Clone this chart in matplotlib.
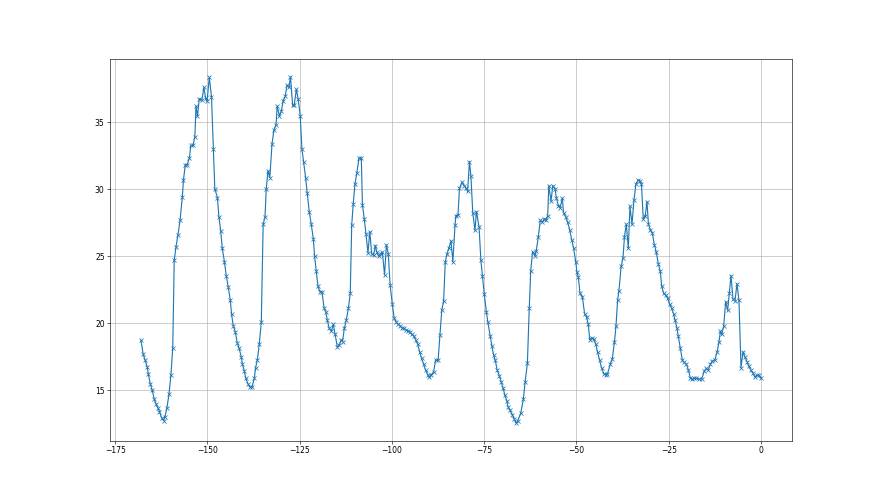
import matplotlib
matplotlib.use("Agg")
import matplotlib.pyplot as plt

# hours before now
hours = [
    -168.0, -167.4, -166.85, -166.3, -166.0, -165.5, -164.95, -164.4, -163.9, -163.3,
    -163.0, -162.4, -161.9, -161.5, -161.0, -160.4, -159.9, -159.4, -159.0, -158.5,
    -158.0, -157.4, -156.8, -156.5, -156.0, -155.5, -154.9, -154.5, -153.9, -153.4,
    -153.1, -152.7, -152.2, -151.5, -150.95, -150.5, -150.1, -149.5, -148.9, -148.4,
    -148.0, -147.3, -146.9,
    -146.4, -145.98, -145.4, -144.9, -144.36, -143.8, -143.45, -143.0, -142.46, -141.9,
    -141.4, -140.84, -140.5, -140.0, -139.6, -139.03, -138.5, -137.94, -137.3, -136.95,
    -136.5, -135.96, -135.4, -134.9, -134.4, -134.06, -133.6, -133.1, -132.5, -132.0,
    -131.4, -131.1, -130.5, -130.0, -129.45, -128.9, -128.46, -127.9, -127.5, -126.9,
    -126.5, -125.9, -125.4,
    -124.85, -124.4, -123.94, -123.4, -122.95, -122.4, -121.9, -121.3, -120.96, -120.5,
    -120.05, -119.5, -118.97, -118.4, -117.9, -117.5, -117.0, -116.4, -115.9, -115.4,
    -114.8, -114.3, -113.7, -113.4, -112.9, -112.4, -111.8, -111.3, -110.9, -110.5,
    -110.0, -109.5, -108.95, -108.3, -108.0, -107.5, -107.05, -106.5, -106.0, -105.5,
    -104.97,
    -104.5, -104.1, -103.6, -103.1, -102.6, -102.0, -101.5, -101.0, -100.5, -99.9,
    -99.37, -98.9, -98.47, -97.8, -97.4, -96.75, -96.3, -95.7, -95.1, -94.67,
    -94.1, -93.6, -93.05, -92.5, -91.96, -91.4, -90.9, -90.3, -89.9, -89.3,
    -88.7, -88.17, -87.5, -87.0, -86.5, -86.0, -85.55, -85.1, -84.55, -84.0,
    -83.5, -82.9,
    -82.66, -82.1, -81.7, -81.0, -80.5, -80.0, -79.5, -79.0, -78.6, -78.1,
    -77.5, -77.1, -76.4, -75.9, -75.5, -75.0, -74.4, -74.0, -73.4, -72.9,
    -72.45, -72.0, -71.5, -70.9, -70.4, -69.9, -69.4, -68.9, -68.5, -68.0,
    -67.4, -66.85, -66.3, -65.9, -65.1, -64.4, -63.9, -63.3, -62.8, -62.4,
    -61.9,
    -61.2, -60.9, -60.35, -59.8, -59.26, -58.7, -58.2, -57.8, -57.5, -56.9,
    -56.4, -55.8, -55.47, -54.9, -54.4, -53.84, -53.5, -52.9, -52.4, -51.85,
    -51.3, -50.77, -50.2, -49.87, -49.5, -49.05, -48.4, -47.8, -47.25, -46.8,
    -46.4, -45.9, -45.35, -44.8, -44.27, -43.7, -43.2, -42.6, -42.1, -41.6,
    -40.8, -40.3,
    -39.7, -39.3, -38.85, -38.5, -37.9, -37.4, -37.0, -36.5, -35.96, -35.5,
    -34.96, -34.4, -33.9, -33.3, -32.8, -32.4, -31.9, -31.35, -30.9, -30.5,
    -30.0, -29.45, -28.9, -28.4, -27.8, -27.3, -26.9, -26.4, -25.84, -25.3,
    -24.75, -24.2, -23.7, -23.3, -22.8, -22.4, -21.9, -21.3, -20.8, -20.2,
    -19.7, -19.16, -18.6, -18.07, -17.5,
    -16.8, -16.08, -15.36, -14.8, -14.28, -13.73, -13.2, -12.47, -11.93, -11.4,
    -11.0, -10.66, -10.12, -9.58, -9.04, -8.59, -8.13, -7.59, -7.05, -6.51,
    -5.97, -5.42, -4.88, -4.34, -3.8, -3.26, -2.71, -2.17, -1.63, -1.09,
    -0.55, 0.0,
]

temperature = [
    18.73, 17.69, 17.24, 16.74, 16.2, 15.52, 15.02, 14.35, 13.96, 13.66,
    13.41, 12.96, 12.76, 13.06, 13.66, 14.75, 16.14, 18.13, 24.70, 25.72,
    26.59, 27.71, 29.43, 30.67, 31.82, 31.82, 32.31, 33.26, 33.26, 33.91,
    36.19, 35.45, 36.74, 36.64, 37.59, 36.79, 36.54, 38.33, 36.89, 33.01,
    30.02, 29.38, 27.96,
    26.89, 25.60, 24.60, 23.56, 22.71, 21.72, 20.67, 19.83, 19.38, 18.53,
    18.13, 17.51, 16.94, 16.44, 15.9, 15.5, 15.25, 15.25, 15.9, 16.69,
    17.24, 18.43, 20.12, 27.39, 27.94, 30.02, 31.37, 30.87, 33.36, 34.40,
    34.80, 36.19, 35.45, 35.8, 36.59, 36.94, 37.74, 37.59, 38.38, 36.24,
    36.24, 37.44, 36.69,
    35.45, 33.01, 32.01, 30.87, 29.73, 28.28, 27.44, 26.29, 25.0, 23.9,
    22.76, 22.36, 22.36, 21.17, 20.82, 20.22, 19.63, 19.43, 19.93, 19.18,
    18.23, 18.38, 18.78, 18.63, 19.63, 20.22, 21.12, 22.26, 27.34, 28.88,
    30.42, 31.22, 32.31, 32.31, 28.83, 27.79, 26.69, 25.25, 26.84, 25.20,
    25.1,
    25.8, 25.3, 25.0, 25.2, 25.3, 23.61, 25.85, 25.2, 22.86, 21.42,
    20.37, 20.12, 19.97, 19.83, 19.68, 19.63, 19.53, 19.43, 19.38, 19.18,
    19.08, 18.78, 18.48, 17.89, 17.39, 16.94, 16.54, 16.19, 15.99, 16.19,
    16.39, 17.29, 17.24, 19.13, 20.97, 21.67, 24.6, 25.15, 25.65, 26.14,
    24.6, 27.34,
    28.03, 28.08, 30.07, 30.52, 30.27, 30.12, 29.83, 32.06, 30.97, 28.23,
    26.94, 28.33, 27.19, 24.7, 23.56, 22.21, 20.82, 20.07, 19.08, 18.28,
    17.64, 17.24, 16.54, 16.09, 15.65, 15.2, 14.65, 14.25, 13.76, 13.51,
    13.21, 12.86, 12.56, 12.76, 13.31, 14.35, 15.65, 17.04, 21.12, 23.9,
    25.35,
    25.05, 25.4, 26.44, 27.69, 27.54, 27.79, 27.69, 28.03, 30.27, 29.13,
    30.27, 30.02, 29.38, 28.78, 28.63, 29.33, 28.23, 27.94, 27.54, 26.99,
    26.24, 25.60, 24.60, 23.81, 23.46, 22.26, 21.97, 20.72, 20.47, 19.93,
    18.78, 18.93, 18.83, 18.48, 17.84, 17.24, 16.69, 16.24, 16.19, 16.24,
    16.99, 17.34,
    18.63, 19.78, 21.77, 22.41, 24.25, 24.85, 26.44, 27.39, 25.6, 28.73,
    27.39, 29.23, 30.37, 30.67, 30.62, 30.37, 27.79, 28.03, 29.08, 27.39,
    26.99, 26.74, 25.85, 25.35, 24.40, 23.9, 22.76, 22.26, 22.11, 21.87,
    21.42, 21.12, 20.72, 20.27, 19.68, 19.03, 18.18, 17.24, 17.09, 16.94,
    16.54, 15.95, 15.85, 15.9, 15.9,
    15.85, 15.85, 16.44, 16.64, 16.54, 16.94, 17.19, 17.29, 17.84, 18.58,
    19.43, 19.18, 19.78, 21.62, 20.97, 22.26, 23.56, 21.82, 21.67, 22.96,
    21.72, 16.69, 17.89, 17.49, 17.14, 16.79, 16.49, 16.29, 15.99, 16.14,
    16.14, 15.9,
]

fig, ax = plt.subplots(figsize=(16, 9), dpi=55)

ax.plot(hours, temperature, marker='x', color='tab:blue')
ax.grid(True)

fig.savefig('out.png', dpi=55)
